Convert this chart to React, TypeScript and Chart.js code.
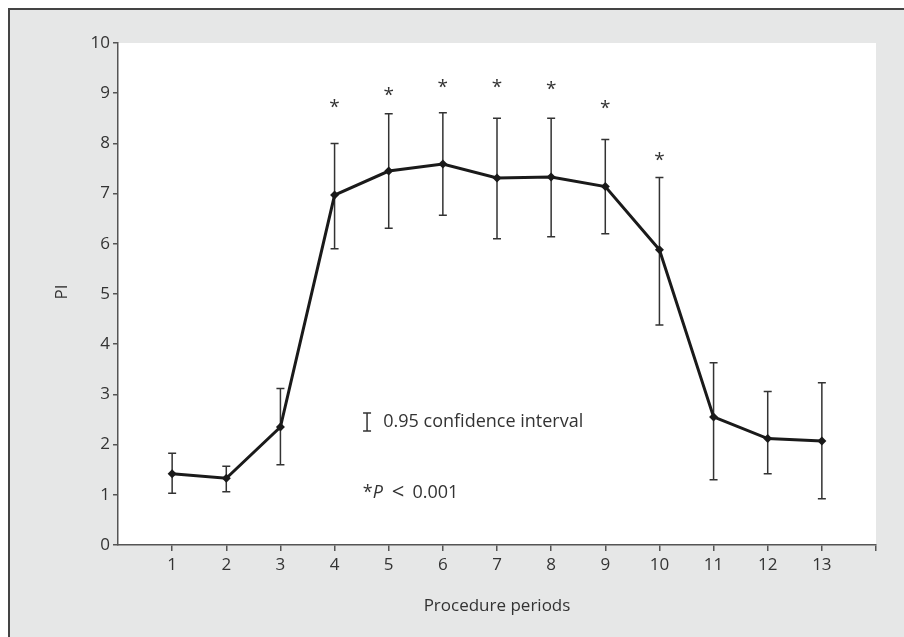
import React, { useEffect, useRef } from "react";
import { Chart, registerables } from "chart.js";

Chart.register(...registerables);

const periods = [1, 2, 3, 4, 5, 6, 7, 8, 9, 10, 11, 12, 13];
const piMean = [1.42, 1.33, 2.35, 6.97, 7.45, 7.59, 7.31, 7.33, 7.14, 5.88, 2.55, 2.12, 2.07];
const ciUpper = [1.83, 1.57, 3.12, 8.0, 8.59, 8.61, 8.5, 8.5, 8.08, 7.32, 3.63, 3.06, 3.23];
const ciLower = [1.03, 1.06, 1.6, 5.9, 6.31, 6.57, 6.1, 6.14, 6.2, 4.38, 1.3, 1.42, 0.92];
const starPeriods = [4, 5, 6, 7, 8, 9, 10];
const starLevels = [8.84, 9.07, 9.23, 9.23, 9.2, 8.82, 7.77];
const yTitle = "PI";
const xTitle = "Procedure periods";
const ciLabel = "0.95 confidence interval";

const FONT = "'Open Sans', 'Noto Sans', sans-serif";
const INK = "#333333";

const plotPlugin = {
  id: "plotExtras",
  beforeDraw(chart: any) {
    const { ctx, chartArea } = chart;
    ctx.save();
    ctx.fillStyle = "#ffffff";
    ctx.fillRect(chartArea.left, chartArea.top, chartArea.right - chartArea.left, chartArea.bottom - chartArea.top);
    ctx.restore();
  },
  beforeDatasetsDraw(chart: any) {
    const { ctx, scales } = chart;
    const xs = scales.x;
    const ys = scales.y;
    ctx.save();
    ctx.strokeStyle = "#333333";
    ctx.lineWidth = 1.5;
    const cap = 4;
    periods.forEach((p, i) => {
      const x = xs.getPixelForValue(p);
      const yu = ys.getPixelForValue(ciUpper[i]);
      const yl = ys.getPixelForValue(ciLower[i]);
      ctx.beginPath();
      ctx.moveTo(x, yu);
      ctx.lineTo(x, yl);
      ctx.moveTo(x - cap, yu);
      ctx.lineTo(x + cap, yu);
      ctx.moveTo(x - cap, yl);
      ctx.lineTo(x + cap, yl);
      ctx.stroke();
    });
    ctx.restore();
  },
  afterDraw(chart: any) {
    const { ctx, scales, chartArea } = chart;
    const xs = scales.x;
    const ys = scales.y;
    ctx.save();
    ctx.fillStyle = INK;
    // asterisks
    ctx.font = `19px ${FONT}`;
    ctx.textAlign = "center";
    ctx.textBaseline = "middle";
    starPeriods.forEach((p, i) => {
      ctx.fillText("*", xs.getPixelForValue(p), ys.getPixelForValue(starLevels[i]) + 6);
    });
    // legend symbol for CI
    const lx = xs.getPixelForValue(4.6);
    const ly = ys.getPixelForValue(2.45);
    ctx.strokeStyle = "#333333";
    ctx.lineWidth = 1.5;
    ctx.beginPath();
    ctx.moveTo(lx, ly - 9);
    ctx.lineTo(lx, ly + 9);
    ctx.moveTo(lx - 4, ly - 9);
    ctx.lineTo(lx + 4, ly - 9);
    ctx.moveTo(lx - 4, ly + 9);
    ctx.lineTo(lx + 4, ly + 9);
    ctx.stroke();
    ctx.font = `18px ${FONT}`;
    ctx.textAlign = "left";
    ctx.textBaseline = "middle";
    ctx.fillText(ciLabel, xs.getPixelForValue(4.9), ly);
    // P value note
    const px = xs.getPixelForValue(4.52);
    const py = ys.getPixelForValue(1.04);
    let cx = px;
    ctx.fillText("*", cx, py);
    cx += ctx.measureText("*").width;
    ctx.font = `italic 18px ${FONT}`;
    ctx.fillText("P", cx, py);
    cx += ctx.measureText("P").width + 9;
    ctx.font = `22px ${FONT}`;
    ctx.fillText("<", cx, py);
    cx += ctx.measureText("<").width + 8;
    ctx.font = `18px ${FONT}`;
    ctx.fillText("0.001", cx, py);
    // axis titles
    ctx.font = `17px ${FONT}`;
    ctx.textAlign = "center";
    ctx.fillText(xTitle, (chartArea.left + chartArea.right) / 2, 596);
    ctx.translate(52, (chartArea.top + chartArea.bottom) / 2 - 2);
    ctx.rotate(-Math.PI / 2);
    ctx.fillText(yTitle, 0, 0);
    ctx.restore();
  },
};

export default function App() {
  const ref = useRef<HTMLCanvasElement | null>(null);
  useEffect(() => {
    if (!ref.current) return;
    const chart = new Chart(ref.current, {
      type: "line",
      data: {
        datasets: [
          {
            data: periods.map((p, i) => ({ x: p, y: piMean[i] })),
            borderColor: "#1a1a1a",
            backgroundColor: "#1a1a1a",
            borderWidth: 3,
            pointStyle: "rectRot",
            pointRadius: 4.5,
            pointBorderWidth: 0,
            tension: 0,
          },
        ],
      },
      options: {
        animation: false,
        responsive: false,
        maintainAspectRatio: false,
        layout: { padding: { top: 33, right: 28, left: 0, bottom: 0 } },
        plugins: { legend: { display: false }, tooltip: { enabled: false } },
        scales: {
          x: {
            type: "linear",
            min: 0,
            max: 14,
            afterFit: (s: any) => {
              s.height = 92;
            },
            ticks: {
              stepSize: 1,
              autoSkip: false,
              maxRotation: 0,
              padding: 4,
              color: INK,
              font: { family: FONT, size: 17 },
              callback: (v: any) => (v >= 1 && v <= 13 ? String(v) : ""),
            },
            grid: {
              drawOnChartArea: false,
              drawTicks: true,
              tickLength: 6,
              lineWidth: 1.5,
              color: (c: any) => (c.tick && c.tick.value === 0 ? "rgba(0,0,0,0)" : "#555555"),
            },
            border: { display: true, color: "#555555", width: 1.5 },
          },
          y: {
            min: 0,
            max: 10,
            afterFit: (s: any) => {
              s.width = 108;
            },
            ticks: {
              stepSize: 1,
              padding: 3,
              color: INK,
              font: { family: FONT, size: 17 },
            },
            grid: {
              drawOnChartArea: false,
              drawTicks: true,
              tickLength: 5,
              lineWidth: 1.5,
              color: "#555555",
            },
            border: { display: true, color: "#555555", width: 1.5 },
          },
        },
      },
      plugins: [plotPlugin],
    } as any);
    return () => chart.destroy();
  }, []);
  return (
    <div
      style={{
        position: "fixed",
        left: 8,
        top: 8,
        width: 894,
        height: 627,
        background: "#e6e7e7",
        borderTop: "2px solid #444444",
        borderLeft: "2px solid #444444",
      }}
    >
      <canvas ref={ref} width={894} height={627} style={{ display: "block", width: 894, height: 627 }} />
    </div>
  );
}
